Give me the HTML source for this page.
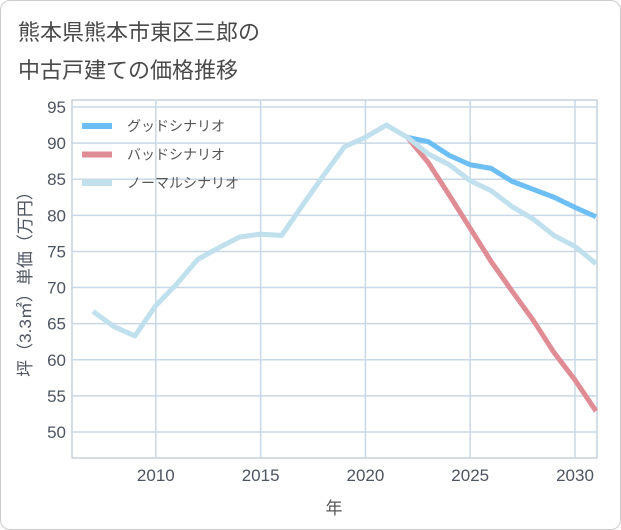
<!DOCTYPE html>
<html><head><meta charset="utf-8"><style>
body{margin:0;background:#fff;}
#wrap{position:relative;width:619px;height:528px;border:1px solid #ccc;border-radius:10px;overflow:hidden;font-family:"Liberation Sans","Noto Sans CJK JP",sans-serif;}
.t{position:absolute;left:17px;font-size:22px;color:#4a4a4a;}
</style></head><body>
<div id="wrap">
<div class="t" style="top:14px">熊本県熊本市東区三郎の</div>
<div class="t" style="top:52px">中古戸建ての価格推移</div>
<svg id="c" width="621" height="530" style="position:absolute;left:-1px;top:-1px"></svg>
</div>
<script>
const years=[2007,2008,2009,2010,2011,2012,2013,2014,2015,2016,2017,2018,2019,2020,2021,2022,2023,2024,2025,2026,2027,2028,2029,2030,2031];
const normal=[66.7,64.6,63.3,67.5,70.5,73.9,75.5,77.0,77.4,77.2,81.4,85.5,89.5,90.8,92.5,90.8,88.5,87.0,84.8,83.4,81.2,79.5,77.2,75.7,73.3];
const futureYears=[2022,2023,2024,2025,2026,2027,2028,2029,2030,2031];
const good=[90.8,90.2,88.3,87.0,86.5,84.7,83.6,82.5,81.1,79.8];
const bad=[90.8,87.3,82.8,78.2,73.6,69.5,65.5,61.0,57.2,52.9];
const xTicks=[2010,2015,2020,2025,2030];
const yTicks=[50,55,60,65,70,75,80,85,90,95];
const L=72,R=597,T=100,B=458;
const x=v=>L+(v-2006)*(R-L)/25.05;
const y=v=>107+(95-v)*7.222;
const svg=document.getElementById('c');const NS='http://www.w3.org/2000/svg';
function mk(t,a,p){const e=document.createElementNS(NS,t);for(const k in a)e.setAttribute(k,a[k]);(p||svg).appendChild(e);return e;}
let bg=mk('rect',{x:L,y:T,width:R-L,height:B-T,fill:'#fff',stroke:'#aab8c8'});


for(const v of xTicks){
let g=mk('line',{x1:x(v),x2:x(v),y1:T,y2:B,stroke:'#c8d8e6','stroke-width':1.5});


let t=mk('text',{x:x(v),y:481,'text-anchor':'middle','font-size':17,fill:'#4d5560'});t.textContent=v;


}
for(const v of yTicks){
let g=mk('line',{x1:L,x2:R,y1:y(v),y2:y(v),stroke:'#c8d8e6','stroke-width':1.5});


let t=mk('text',{x:66,y:y(v)+6,'text-anchor':'end','font-size':17,fill:'#4d5560'});t.textContent=v;


}
function line(xs,ys,col,name){
const p=mk('polyline',{points:xs.map((v,i)=>x(v)+','+y(ys[i])).join(' '),fill:'none',stroke:col,'stroke-width':5,'stroke-linejoin':'round'});


}
line(futureYears,good,'#6cbef5','good-scenario-line');
line(futureYears,bad,'#e08c94','bad-scenario-line');
line(years,normal,'#bfe0ec','normal-scenario-line');
const leg=[['グッドシナリオ','#6cbef5'],['バッドシナリオ','#e08c94'],['ノーマルシナリオ','#bfe0ec']];
leg.forEach((l,i)=>{
const yy=126+i*28.5;
let r=mk('rect',{x:82,y:yy-3,width:30,height:6,fill:l[1]});


let t=mk('text',{x:127,y:yy+5,'font-size':14,fill:'#555'});t.textContent=l[0];


});
let xt=mk('text',{x:334,y:514,'text-anchor':'middle','font-size':17,fill:'#555'});xt.textContent='年';


let yt=mk('text',{x:0,y:0,'text-anchor':'middle','font-size':17,fill:'#4d5560',transform:'translate(31,280) rotate(-90)'});yt.textContent='坪（3.3㎡）単価（万円）';


</script>
</body></html>
